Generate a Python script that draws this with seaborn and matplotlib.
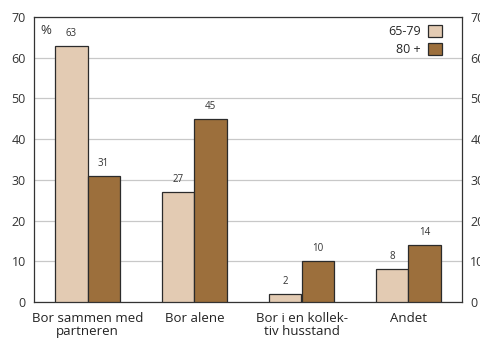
import matplotlib
matplotlib.use("Agg")
import matplotlib.pyplot as plt
import seaborn as sns
import pandas as pd
from matplotlib.patches import Patch

categories = ["Bor sammen med\npartneren", "Bor alene", "Bor i en kollek-\ntiv husstand", "Andet"]
groups = ["65-79", "80 +"]
values_65_79 = [63, 27, 2, 8]
values_80 = [31, 45, 10, 14]
colors = ["#E3CBB3", "#9C6F3C"]
yticks = [0, 10, 20, 30, 40, 50, 60, 70]

df = pd.DataFrame({
    "kategori": categories * 2,
    "gruppe": [groups[0]] * 4 + [groups[1]] * 4,
    "pct": values_65_79 + values_80,
})

sns.set_style("white")
plt.rcParams["font.family"] = ["Open Sans", "DejaVu Sans"]

fig = plt.figure(figsize=(4.81, 3.42), dpi=100)
ax = fig.add_axes([34 / 481, 1 - 302 / 342, 428 / 481, 285 / 342])

sns.barplot(data=df, x="kategori", y="pct", hue="gruppe", palette=colors,
            saturation=1, width=0.6, edgecolor="#2b2b2b", linewidth=0.9, ax=ax,
            legend=False, zorder=3)

for cont in ax.containers:
    ax.bar_label(cont, labels=[f"{v:.0f}" for v in cont.datavalues],
                 padding=5, fontsize=7, color="#333333")

ax.set_xlim(-0.5, 3.5)
ax.set_ylim(0, 70)
ax.set_yticks(yticks)
ax.yaxis.grid(True, color="#c8c8c8", linewidth=0.9, zorder=0)
ax.set_axisbelow(True)
ax.set_xlabel("")
ax.set_ylabel("")

ax.tick_params(axis="x", which="major", length=0, labelsize=9.5, pad=7, colors="#222222")
for lbl in ax.get_xticklabels():
    lbl.set_linespacing(1.05)
ax.set_xticks([0.5, 1.5, 2.5], minor=True)
ax.tick_params(axis="x", which="minor", length=4, width=0.8, direction="out", color="#333333")
ax.tick_params(axis="y", length=0, labelsize=9, pad=6, colors="#333333")

for s in ax.spines.values():
    s.set_color("#333333")
    s.set_linewidth(0.9)

ax2 = ax.twinx()
ax2.set_ylim(0, 70)
ax2.set_yticks(yticks)
ax2.tick_params(axis="y", length=0, labelsize=9, pad=6, colors="#333333")
for s in ax2.spines.values():
    s.set_visible(False)

ax.text(0.015, 0.975, "%", transform=ax.transAxes, fontsize=9.5,
        va="top", ha="left", color="#333333")

handles = [Patch(facecolor=c, edgecolor="#2b2b2b", linewidth=0.9) for c in colors]
ax.legend(handles, groups, loc="upper right", bbox_to_anchor=(1 - 15 / 428, 1 - 3 / 285),
          borderaxespad=0, frameon=False, markerfirst=False,
          fontsize=9, handlelength=1.1, handleheight=1.1, handletextpad=0.6,
          labelspacing=0.35)

fig.savefig("out.png", dpi=100)
